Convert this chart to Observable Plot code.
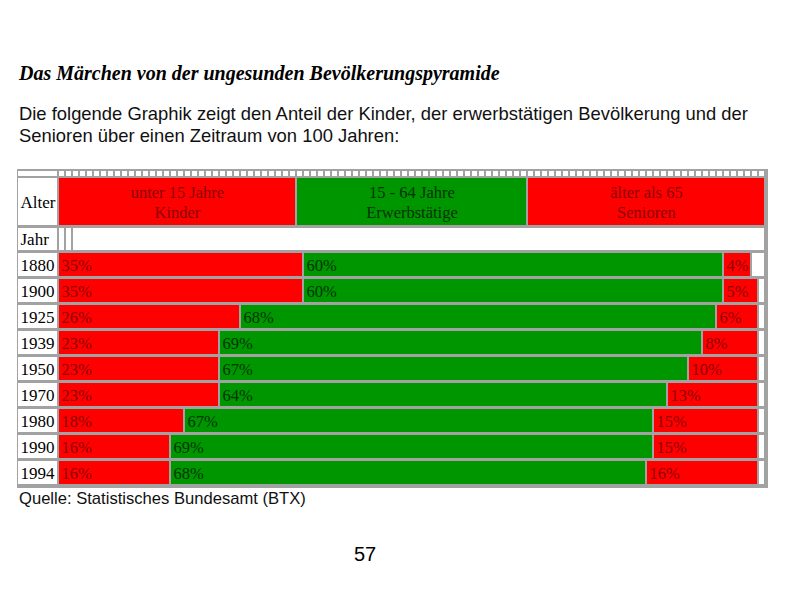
<!DOCTYPE html>
<html><head><meta charset="utf-8">
<script src="https://cdn.jsdelivr.net/npm/d3@7"></script>
<script src="https://cdn.jsdelivr.net/npm/@observablehq/plot@0.6"></script>
<style>
body{margin:0;background:#fff;}
#page{position:relative;width:794px;height:595px;overflow:hidden;background:#fff;}
.t{position:absolute;left:19px;white-space:nowrap;color:#000;line-height:1;}
#title{top:62px;font:italic bold 20px "Liberation Serif",serif;}
#sub1{top:103px;font:18.4px "Liberation Sans",sans-serif;color:#111;}
#sub2{top:125px;font:18.4px "Liberation Sans",sans-serif;color:#111;}
#cap{top:489px;font:16.6px "Liberation Sans",sans-serif;color:#111;}
#pg{top:543px;left:354px;font:20px "Liberation Sans",sans-serif;}
#chart{position:absolute;left:0;top:160px;}
</style></head><body><div id="page">
<div class="t" id="title">Das Märchen von der ungesunden Bevölkerungspyramide</div>
<div class="t" id="sub1">Die folgende Graphik zeigt den Anteil der Kinder, der erwerbstätigen Bevölkerung und der</div>
<div class="t" id="sub2">Senioren über einen Zeitraum von 100 Jahren:</div>
<div id="chart"></div>
<div class="t" id="cap">Quelle: Statistisches Bundesamt (BTX)</div>
<div class="t" id="pg">57</div>
</div>
<script>
// ---- data ----
const years = ["1880","1900","1925","1939","1950","1970","1980","1990","1994"];
const kinder = [35,35,26,23,23,23,18,16,16];
const erwerb = [60,60,68,69,67,64,67,69,68];
const senioren = [4,5,6,8,10,13,15,15,16];
const groupTop = ["unter 15 Jahre","15 - 64 Jahre","älter als 65"];
const groupBottom = ["Kinder","Erwerbstätige","Senioren"];
const rowLabelAlter = "Alter";
const rowLabelJahr = "Jahr";

// ---- style / layout ----
const RED = "#ff0000", GREEN = "#009600", GRAY = "#a2a2a2";
const DARK = {red: "#8a0000", green: "#003300"};
const segColors = ["red","green","red"];
const X0 = 59, PX = 7;              // pixel origin and px per percent column
const px2u = p => (p - X0) / PX;    // chrome positions (outside data) in column units
const TOTALCOLS = 101;
const headerSpans = [34, 33, 34];
const TOP = 160, H = 340;
const rowTop = i => 253 + 26 * i, ROWH = 23;
const SERIF = "Liberation Serif";

// segments
const segs = [];
years.forEach((yr, i) => {
  const vals = [kinder[i], erwerb[i], senioren[i]];
  let s = 0;
  vals.forEach((v, k) => {
    segs.push({year: yr, x1: s, x2: s + v, v, fill: segColors[k] === "red" ? RED : GREEN,
      dark: DARK[segColors[k]], y1: rowTop(i), y2: rowTop(i) + ROWH});
    s += v;
  });
});
const trailing = years.map((yr, i) => {
  const tot = kinder[i] + erwerb[i] + senioren[i];
  return {x1: tot, x2: TOTALCOLS, y1: rowTop(i), y2: rowTop(i) + ROWH};
});
// header cells
let hs = 0;
const header = headerSpans.map((n, k) => {
  const d = {x1: hs, x2: hs + n, top: groupTop[k], bottom: groupBottom[k],
    fill: segColors[k] === "red" ? RED : GREEN, dark: DARK[segColors[k]]};
  hs += n; return d;
});
// top strip of column cells
const strip = d3.range(TOTALCOLS).map(i => ({x1: i, x2: i + 1}));
const jahrCells = [{x1: 0, x2: 1}, {x1: 1, x2: 2}, {x1: 2, x2: TOTALCOLS}];
// label column rows
const labelRows = [
  {y1: 171, y2: 176, text: ""},
  {y1: 178, y2: 225, text: rowLabelAlter},
  {y1: 228, y2: 250, text: rowLabelJahr},
  ...years.map((yr, i) => ({y1: rowTop(i), y2: rowTop(i) + ROWH, text: yr}))
];

const chart = Plot.plot({
  width: 794, height: H,
  marginLeft: 0, marginRight: 0, marginTop: 0, marginBottom: 0,
  x: {domain: [0, 100], range: [X0, X0 + 100 * PX], axis: null},
  y: {domain: [TOP, TOP + H], range: [0, H], axis: null},
  color: {type: "identity"},
  style: {background: "transparent"},
  marks: [
    Plot.rect([0], {x1: px2u(17), x2: px2u(768), y1: 169, y2: 488, fill: GRAY}),
    Plot.rect(labelRows, {x1: px2u(18), x2: px2u(57), y1: "y1", y2: "y2", fill: "#fff"}),
    Plot.text(labelRows, {x: px2u(20), y: d => (d.y1 + d.y2) / 2, text: "text", textAnchor: "start",
      fontFamily: SERIF, fontSize: 17, fill: "#000", dy: 0.5}),
    Plot.rect(strip, {x1: "x1", x2: "x2", y1: 171, y2: 176, insetRight: 2, fill: "#fff"}),
    Plot.rect(header, {x1: "x1", x2: "x2", y1: 178, y2: 225, insetRight: 2, fill: "fill"}),
    Plot.text(header, {x: d => (d.x1 + d.x2) / 2 - 0.15, y: 192, text: "top", fontFamily: SERIF, fontSize: 16.5, fill: "dark"}),
    Plot.text(header, {x: d => (d.x1 + d.x2) / 2 - 0.15, y: 212, text: "bottom", fontFamily: SERIF, fontSize: 16.5, fill: "dark"}),
    Plot.rect(jahrCells, {x1: "x1", x2: "x2", y1: 228, y2: 250, insetRight: 2, fill: "#fff"}),
    Plot.rect(trailing, {x1: "x1", x2: "x2", y1: "y1", y2: "y2", insetRight: 2, fill: "#fff"}),
    Plot.rect(segs, {x1: "x1", x2: "x2", y1: "y1", y2: "y2", insetRight: 2, fill: "fill"}),
    Plot.text(segs, {x: "x1", y: d => (d.y1 + d.y2) / 2, text: d => d.v + "%", textAnchor: "start",
      dx: 2, dy: 0.5, fontFamily: SERIF, fontSize: 16.5, fill: "dark"})
  ]
});
document.getElementById("chart").appendChild(chart);
</script>
</body></html>
